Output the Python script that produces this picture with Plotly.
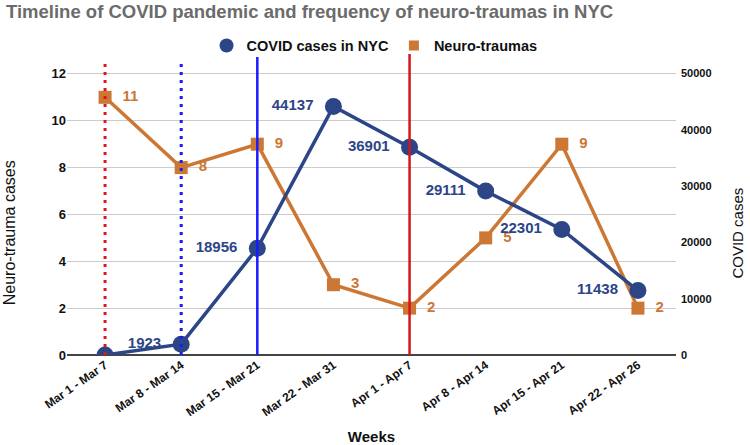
import plotly.graph_objects as go

weeks = ["Mar 1 - Mar 7", "Mar 8 - Mar 14", "Mar 15 - Mar 21", "Mar 22 - Mar 31",
         "Apr 1 - Apr 7", "Apr 8 - Apr 14", "Apr 15 - Apr 21", "Apr 22 - Apr 26"]
covid_cases = [0, 1923, 18956, 44137, 36901, 29111, 22301, 11438]
covid_labels = ["", "1923", "18956", "44137", "36901", "29111", "22301", "11438"]
neuro_traumas = [11, 8, 9, 3, 2, 5, 9, 2]

# event markers: (week index, colour, dash, top in paper coords)
events = [(0, "#e0151d", "3px,5px", 0.967), (1, "#1a1aff", "3px,5px", 0.975),
          (2, "#1a1aff", "solid", 0.99), (4, "#d8141b", "solid", 1.0)]

NAVY = "#2c4587"
ORANGE = "#cc7733"
FONT = "Liberation Sans"

fig = go.Figure()
xs = list(range(len(weeks)))

fig.add_trace(go.Scatter(
    x=xs, y=neuro_traumas, name="Neuro-traumas", yaxis="y", showlegend=False,
    mode="lines+markers+text", text=["  " + str(v) for v in neuro_traumas],
    textposition="middle right",
    textfont=dict(color=ORANGE, size=15, family=FONT, weight="bold"),
    line=dict(color=ORANGE, width=3.5), marker=dict(symbol="square", size=13, color=ORANGE),
    cliponaxis=True))

fig.add_trace(go.Scatter(
    x=xs, y=covid_cases, name="COVID cases in NYC", yaxis="y2", showlegend=False,
    mode="lines+markers+text", text=[t + "  " if t else "" for t in covid_labels],
    textposition="middle left",
    textfont=dict(color=NAVY, size=15, family=FONT, weight="bold"),
    line=dict(color=NAVY, width=3.5), marker=dict(symbol="circle", size=17, color=NAVY),
    cliponaxis=True))

# legend-only entries (markers without lines, as in the reference)
fig.add_trace(go.Scatter(x=[None], y=[None], mode="markers", name="COVID cases in NYC",
                         marker=dict(symbol="circle", size=14, color=NAVY)))
fig.add_trace(go.Scatter(x=[None], y=[None], mode="markers", name="Neuro-traumas",
                         marker=dict(symbol="square", size=10, color=ORANGE)))

for idx, col, dash, top in events:
    fig.add_shape(type="line", xref="x", yref="paper", x0=idx, x1=idx, y0=0, y1=top,
                  line=dict(color=col, width=3 if dash != "solid" else 2.5, dash=dash),
                  layer="above")

# axis titles (placed as in the reference, slightly below the axis centre)
fig.add_annotation(text="Neuro-trauma cases", xref="paper", yref="paper", x=-0.095, y=0.405,
                   xanchor="center", yanchor="middle", textangle=-90, showarrow=False,
                   font=dict(size=16, family=FONT, color="#111"))
fig.add_annotation(text="COVID cases", xref="paper", yref="paper", x=1.101, y=0.405,
                   xanchor="center", yanchor="middle", textangle=-90, showarrow=False,
                   font=dict(size=15, family=FONT, color="#111"))

fig.update_layout(
    width=750, height=445,
    margin=dict(l=67, r=74, t=54, b=90, autoexpand=False),
    paper_bgcolor="white", plot_bgcolor="white",
    font=dict(family=FONT, color="#111"),
    title=dict(text="<b>Timeline of COVID pandemic and frequency of neuro-traumas in NYC</b>",
               x=0.008, xanchor="left", y=0.973, yanchor="middle",
               font=dict(size=18.5, color="#6b6b6b", family=FONT)),
    legend=dict(orientation="h", x=0.505, xanchor="center", y=0.975, yanchor="bottom",
                font=dict(size=14.5, color="#111", family=FONT, weight="bold"),
                bgcolor="rgba(0,0,0,0)", traceorder="normal"),
    showlegend=True,
    xaxis=dict(
        tickmode="array", tickvals=xs, ticktext=weeks,
        range=[-0.5, len(weeks) - 0.5], tickangle=-35,
        tickfont=dict(size=12, family=FONT, weight="bold", color="#111"),
        showgrid=False, showline=False, zeroline=False, ticks="", automargin=False,
        title=dict(text="<b>Weeks</b>", font=dict(size=15, family=FONT, color="#111"),
                   standoff=20)),
    yaxis=dict(
        range=[0, 12.85], tickvals=[0, 2, 4, 6, 8, 10, 12], automargin=False,
        tickfont=dict(size=13, family=FONT, weight="bold", color="#111"),
        gridcolor="#cccccc", gridwidth=1, zeroline=True, zerolinecolor="#444",
        zerolinewidth=1.5, showline=False),
    yaxis2=dict(
        overlaying="y", side="right", range=[0, 53460], automargin=False,
        tickvals=[0, 10000, 20000, 30000, 40000, 50000], tickformat="d",
        tickfont=dict(size=11, family=FONT, weight="bold", color="#111"),
        showgrid=False, zeroline=False, showline=False, ticklabelstandoff=4),
)

fig.write_html("out.html", config={"displayModeBar": False},
               post_script="document.body.style.margin='0';")
